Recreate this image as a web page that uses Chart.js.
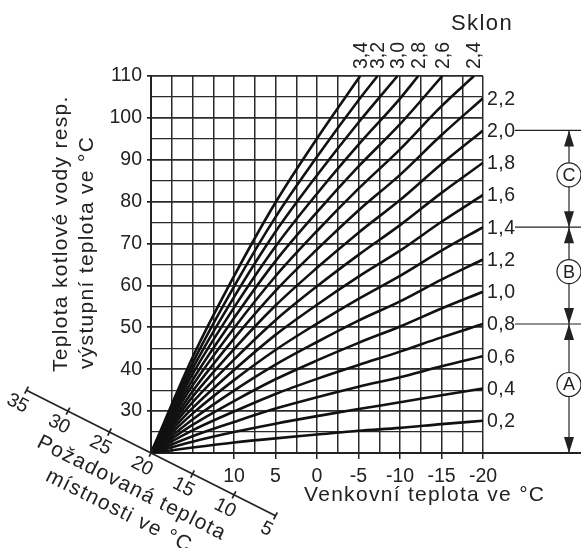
<!DOCTYPE html>
<html lang="cs">
<head>
<meta charset="UTF-8">
<title>Sklon</title>
<script src="https://cdn.jsdelivr.net/npm/chart.js"></script>
<style>
  * { margin: 0; padding: 0; }
  body { background: #fff; width: 581px; height: 548px; overflow: hidden; }
  canvas { display: block; }
</style>
</head>
<body>
<canvas id="chart" width="581" height="548"></canvas>
<script>
  // venkovní teplota (x) a teplota vody pro každý sklon (y)
  const outdoor = [20, 15, 10, 5, 0, -5, -10, -15, -20];
  const slopeNames = ['0,2','0,4','0,6','0,8','1,0','1,2','1,4','1,6','1,8','2,0','2,2','2,4','2,6','2,8','3,0','3,2','3,4'];
  const sklon02 = [20, 21.3, 22.5, 23.5, 24.4, 25.3, 26.0, 26.9, 27.7];
  const sklon04 = [20, 22.7, 25.0, 27.0, 28.8, 30.5, 32.1, 33.8, 35.4];
  const sklon06 = [20, 24.0, 27.4, 30.6, 33.3, 35.8, 38.1, 40.7, 43.1];
  const sklon08 = [20, 25.4, 29.9, 34.1, 37.7, 41.0, 44.2, 47.6, 50.8];
  const sklon10 = [20, 26.7, 32.4, 37.6, 42.1, 46.3, 50.2, 54.5, 58.5];
  const sklon12 = [20, 28.0, 34.9, 41.1, 46.5, 51.6, 56.2, 61.4, 66.2];
  const sklon14 = [20, 29.4, 37.4, 44.6, 50.9, 56.8, 62.3, 68.3, 73.9];
  const sklon16 = [20, 30.7, 39.8, 48.2, 55.4, 62.1, 68.3, 75.2, 81.6];
  const sklon18 = [20, 32.1, 42.3, 51.7, 59.8, 67.3, 74.4, 82.1, 89.3];
  const sklon20 = [20, 33.4, 44.8, 55.2, 64.2, 72.6, 80.4, 89.0, 97.0];
  const sklon22 = [20, 34.7, 47.3, 58.7, 68.6, 77.9, 86.4, 95.9, 104.7];
  const sklon24 = [20, 36.1, 49.8, 62.2, 73.0, 83.1, 92.5, 102.8];
  const sklon26 = [20, 37.4, 52.2, 65.8, 77.5, 88.4, 98.5];
  const sklon28 = [20, 38.8, 54.7, 69.3, 81.9, 93.6, 104.6];
  const sklon30 = [20, 40.1, 57.2, 72.8, 86.3, 98.9];
  const sklon32 = [20, 41.4, 59.7, 76.3, 90.7, 104.2];
  const sklon34 = [20, 42.8, 62.2, 79.8, 95.1];
  // kde strmé křivky 2,4 .. 3,4 narazí na 110 °C
  const topEndTemps = [-18.9, -15.1, -12.2, -9.7, -7.3, -5.2];
  const roomTicks = [35, 30, 25, 20, 15, 10, 5];

  const series = [sklon02, sklon04, sklon06, sklon08, sklon10, sklon12, sklon14, sklon16, sklon18,
                  sklon20, sklon22, sklon24, sklon26, sklon28, sklon30, sklon32, sklon34];

  const FONT = "'Liberation Sans', Arial, sans-serif";
  const INK = '#222';

  function line(ctx, x1, y1, x2, y2) {
    ctx.beginPath(); ctx.moveTo(x1, y1); ctx.lineTo(x2, y2); ctx.stroke();
  }
  function text(ctx, s, x, y, o) {
    ctx.save();
    ctx.translate(x, y);
    if (o.angle) ctx.rotate(o.angle);
    ctx.font = (o.size || 19) + 'px ' + FONT;
    ctx.letterSpacing = (o.sp || 0) + 'px';
    ctx.textAlign = o.align || 'left';
    ctx.textBaseline = o.base || 'alphabetic';
    ctx.fillStyle = INK;
    ctx.fillText(s, 0, 0);
    ctx.restore();
  }
  function head(ctx, x, tip, dir) {
    ctx.beginPath(); ctx.moveTo(x, tip); ctx.lineTo(x - 5, tip + 16 * dir); ctx.lineTo(x + 5, tip + 16 * dir);
    ctx.closePath(); ctx.fill();
  }

  const datasets = series.map((vals, i) => {
    const pts = vals.map((v, j) => ({ x: outdoor[j], y: v }));
    if (i >= 11) pts.push({ x: topEndTemps[i - 11], y: 110 });
    return { label: slopeNames[i], data: pts, borderColor: '#111', borderWidth: 2.6, pointRadius: 0,
             cubicInterpolationMode: 'monotone', fill: false };
  });

  const extras = {
    id: 'extras',
    afterDraw(chart) {
      const { ctx, chartArea: a, scales: { x, y } } = chart;
      const ends = chart.data.datasets.map((d, i) => { const p = chart.getDatasetMeta(i).data; return p[p.length - 1]; });
      ctx.save();
      ctx.strokeStyle = INK; ctx.fillStyle = INK; ctx.lineWidth = 2;
      line(ctx, a.right, a.bottom, chart.width, a.bottom);

      ends.forEach((p, i) => {
        if (i < 11) text(ctx, slopeNames[i], a.right + 4, p.y + 1, { base: 'middle', size: 19.5, sp: 0.5 });
        else text(ctx, slopeNames[i], p.x + 1, a.top - 7, { angle: -Math.PI / 2, base: 'middle', size: 19.5 });
      });
      text(ctx, 'Sklon', 451, 30, { size: 22, sp: 1.4 });

      text(ctx, 'Teplota kotlové vody resp.', 67, 372, { angle: -Math.PI / 2, size: 21, sp: 1.3 });
      text(ctx, 'výstupní teplota ve °C', 92.5, 369, { angle: -Math.PI / 2, size: 21, sp: 1.3 });
      text(ctx, 'Venkovní teplota ve °C', 304, 501, { size: 21, sp: 1.3 });

      // šikmá osa požadované teploty místnosti
      const px = t => x.getPixelForValue(t), py = t => y.getPixelForValue(t);
      const t0 = roomTicks[0], t1 = roomTicks[roomTicks.length - 1];
      const ang = Math.atan2(py(t1) - py(t0), px(t1) - px(t0));
      const ux = Math.cos(ang), uy = Math.sin(ang), nx = -uy, ny = ux;
      ctx.lineWidth = 1.7;
      line(ctx, px(t0), py(t0), px(t1), py(t1));
      roomTicks.forEach(t => {
        const cx = px(t), cy = py(t);
        line(ctx, cx - 4 * nx, cy - 4 * ny, cx + 4 * nx, cy + 4 * ny);
        text(ctx, String(t), cx + 16 * nx - 2 * ux, cy + 16 * ny - 2 * uy, { angle: ang, align: 'center', base: 'middle', size: 19.5 });
      });
      const ox = px(20), oy = py(20);
      text(ctx, 'Požadovaná teplota', ox - 106 * ux + 46 * nx, oy - 106 * uy + 46 * ny, { angle: ang, size: 21, sp: 1.3 });
      text(ctx, 'místnosti ve °C', ox - 83 * ux + 72 * nx, oy - 83 * uy + 72 * ny, { angle: ang, size: 21, sp: 1.3 });

      // pásma A, B, C
      const lv = [ends[9].y, ends[6].y, ends[3].y, a.bottom];
      const vx = a.right + 86;
      ctx.lineWidth = 1.2;
      lv.slice(0, 3).forEach(v => line(ctx, a.right + 32, v, chart.width, v));
      ['C', 'B', 'A'].forEach((L, i) => {
        const t = lv[i], b = lv[i + 1], c = (t + b) / 2 - 4, r = 12;
        line(ctx, vx, t, vx, c - r); line(ctx, vx, c + r, vx, b);
        head(ctx, vx, t, 1); head(ctx, vx, b, -1);
        ctx.beginPath(); ctx.arc(vx, c, r, 0, 2 * Math.PI); ctx.stroke();
        text(ctx, L, vx, c + 1, { align: 'center', base: 'middle', size: 18 });
      });
      ctx.restore();
    }
  };

  new Chart(document.getElementById('chart'), {
    type: 'line',
    data: { datasets },
    plugins: [extras],
    options: {
      responsive: false, animation: false, devicePixelRatio: 1,
      layout: { padding: { left: 0, right: 98, top: 76, bottom: 55 } },
      plugins: { legend: { display: false }, tooltip: { enabled: false } },
      scales: {
        x: {
          type: 'linear', min: -20, max: 20, reverse: true,
          afterFit: s => { s.height = 40; },
          border: { color: INK, width: 2 },
          grid: { color: '#2b2b2b', lineWidth: 1.5, tickLength: 6,
                  tickColor: c => (c.tick.value <= 10 && c.tick.value % 5 === 0) ? INK : 'rgba(0,0,0,0)' },
          ticks: { stepSize: 2.5, autoSkip: false, maxRotation: 0, padding: 6, color: INK,
                   font: { family: FONT, size: 19.5 },
                   callback: v => (v <= 10 && v % 5 === 0) ? String(v) : '' }
        },
        y: {
          min: 20, max: 110,
          afterFit: s => { s.width = 151; },
          border: { color: INK, width: 2 },
          grid: { color: '#2b2b2b', lineWidth: c => c.tick.value % 10 === 0 ? 1.7 : 1.3, tickLength: 4,
                  tickColor: c => (c.tick.value >= 30 && c.tick.value % 10 === 0) ? INK : 'rgba(0,0,0,0)' },
          ticks: { stepSize: 5, autoSkip: false, padding: 5, color: INK,
                   font: { family: FONT, size: 19.5 },
                   callback: v => (v >= 30 && v % 10 === 0) ? String(v) : '' }
        }
      }
    }
  });
</script>
</body>
</html>
